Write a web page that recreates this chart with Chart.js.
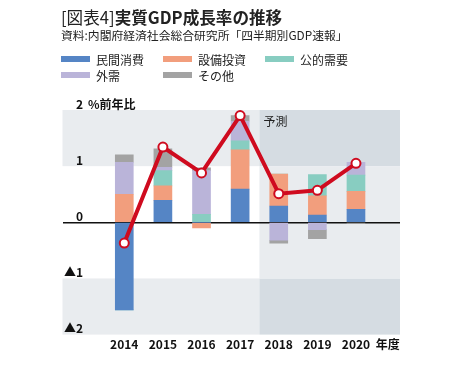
<!DOCTYPE html>
<html lang="ja">
<head>
<meta charset="utf-8">
<script src="https://cdn.jsdelivr.net/npm/chart.js@4/dist/chart.umd.min.js"></script>
<style>
  body { margin: 0; background: #fff; font-family: 'Noto Sans CJK JP', sans-serif; color: #222; }
  .wrap { position: relative; width: 459px; height: 368px; overflow: hidden; }
  #myChart { position: absolute; left: 0; top: 0; }
  .title { position: absolute; left: 61px; top: 6px; font-size: 16.6px; line-height: 22px; white-space: nowrap; }
  .title b { font-weight: 700; }
  .source { position: absolute; left: 61px; top: 27px; font-size: 11.8px; line-height: 16px; white-space: nowrap; }
  .legend { position: absolute; left: 61px; top: 52px; }
  .item { position: absolute; width: 100px; height: 16px; font-size: 12px; line-height: 16px; white-space: nowrap; }
  .item span { display: inline-block; width: 29px; height: 6px; margin-right: 6px; vertical-align: 3px; }
</style>
</head>
<body>
<div class="wrap">
  <canvas id="myChart" width="459" height="368"></canvas>
  <div class="title">[図表4]<b>実質GDP成長率の推移</b></div>
  <div class="source">資料:内閣府経済社会総合研究所「四半期別GDP速報」</div>
  <div class="legend" id="legend"></div>
</div>
<script>
// 年度
const years = [2014, 2015, 2016, 2017, 2018, 2019, 2020]
// 寄与度 (%ポイント)
const privateConsumption = [-1.56, 0.39, 0, 0.59, 0.29, 0.13, 0.23]
const capitalInvestment = [0.50, 0.26, -0.10, 0.70, 0.57, 0.34, 0.32]
const publicDemand = [0, 0.27, 0.14, 0.16, 0, 0.38, 0.29]
const externalDemand = [0.57, 0.06, 0.78, 0.35, -0.32, -0.13, 0.23]
const others = [0.13, 0.33, 0.05, 0.10, -0.05, -0.16, -0.02]
// 実質GDP成長率
const gdpGrowth = [-0.37, 1.34, 0.88, 1.90, 0.51, 0.57, 1.05]
const yTicks = [2, 1, 0, -1, -2]
const forecastFrom = 2017.5

const seriesNames = ['民間消費', '設備投資', '公的需要', '外需', 'その他']
const seriesColors = ['#5585c5', '#f29e7d', '#88cdc1', '#bab4d9', '#a3a3a3']
const seriesValues = [privateConsumption, capitalInvestment, publicDemand, externalDemand, others]

const font = "'Noto Sans CJK JP', sans-serif"

// 凡例
const legendBox = document.getElementById('legend')
seriesNames.forEach(function (name, i) {
  const div = document.createElement('div')
  div.className = 'item'
  div.style.left = (i % 3) * 102 + 'px'
  div.style.top = Math.floor(i / 3) * 16 + 'px'
  div.innerHTML = '<span style="background:' + seriesColors[i] + '"></span>' + name
  legendBox.appendChild(div)
})

const toPoints = (arr) => arr.map((v, i) => ({ x: years[i], y: v }))

// 背景の帯と予測部分
const bgPlugin = {
  id: 'bgBands',
  beforeDraw(chart) {
    const { ctx, chartArea, scales } = chart
    const x0 = scales.x.getPixelForValue(forecastFrom)
    const band = (y1, y2, left, right, color) => {
      const top = scales.y.getPixelForValue(y2)
      const bottom = scales.y.getPixelForValue(y1)
      ctx.fillStyle = color
      ctx.fillRect(left, top, right - left, bottom - top)
    }
    ctx.save()
    band(1, 2, chartArea.left, x0, '#e9ecef')
    band(-2, -1, chartArea.left, x0, '#e9ecef')
    band(1, 2, x0, chartArea.right, '#d5dce2')
    band(-2, -1, x0, chartArea.right, '#d5dce2')
    band(-1, 1, x0, chartArea.right, '#e9ecef')
    ctx.restore()
  },
  afterDraw(chart) {
    const { ctx, scales } = chart
    ctx.save()
    ctx.fillStyle = '#111'
    ctx.textBaseline = 'middle'
    ctx.textAlign = 'left'
    ctx.font = 'bold 12px ' + font
    ctx.fillText('%前年比', 88, scales.y.getPixelForValue(2) - 6)
    ctx.font = '12px ' + font
    ctx.fillStyle = '#222'
    ctx.fillText('予測', scales.x.getPixelForValue(forecastFrom) + 4, scales.y.getPixelForValue(2) + 11)
    ctx.restore()
  }
}

const datasets = [{
  type: 'line',
  label: '実質GDP成長率',
  data: toPoints(gdpGrowth),
  borderColor: '#cf0b1f',
  borderWidth: 4,
  pointRadius: 4.5,
  pointBorderWidth: 2,
  pointBackgroundColor: '#fff',
  pointBorderColor: '#cf0b1f',
  tension: 0,
  order: 0
}]
seriesNames.forEach(function (name, i) {
  datasets.push({
    type: 'bar',
    label: name,
    data: toPoints(seriesValues[i]),
    backgroundColor: seriesColors[i],
    borderWidth: 0,
    barThickness: 18,
    stack: 'gdp',
    order: 1
  })
})

const ctx = document.getElementById('myChart')
const config = {
  data: { datasets: datasets },
  plugins: [bgPlugin],
  options: {
    responsive: false,
    devicePixelRatio: 1,
    animation: false,
    layout: { padding: { top: 110, left: 59.5, right: 59, bottom: 13 } },
    plugins: { legend: { display: false }, tooltip: { enabled: false } },
    scales: {
      x: {
        type: 'linear',
        min: 2012.4,
        max: 2021.14,
        offset: false,
        grid: { display: false, drawTicks: false },
        border: { display: false },
        afterBuildTicks: (scale) => {
          scale.ticks = years.map((v) => ({ value: v })).concat([{ value: 2020.82 }])
        },
        ticks: {
          autoSkip: false,
          maxRotation: 0,
          padding: 3,
          color: '#111',
          font: { family: font, size: 12, weight: 'bold' },
          callback: (v) => (v === 2020.82 ? '年度' : String(v))
        }
      },
      y: {
        min: -2,
        max: 2,
        border: { display: false },
        afterBuildTicks: (scale) => {
          scale.ticks = yTicks.map((v) => ({ value: v }))
        },
        grid: {
          drawTicks: false,
          lineWidth: 1.5,
          color: (c) => (c.tick && c.tick.value === 0 ? '#111' : 'rgba(0,0,0,0)')
        },
        ticks: {
          mirror: true,
          crossAlign: 'far',
          padding: 1.5,
          labelOffset: -6,
          color: '#111',
          font: { family: font, size: 12, weight: 'bold' },
          callback: (v) => (v < 0 ? '▲' + (-v) : String(v))
        }
      }
    }
  }
}
const myChart = new Chart(ctx, config)
</script>
</body>
</html>
